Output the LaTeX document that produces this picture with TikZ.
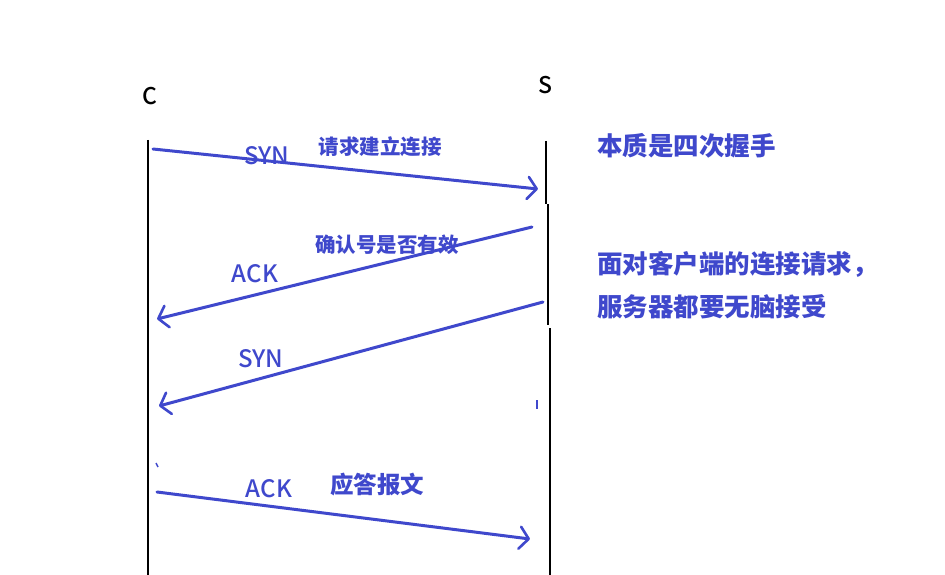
\documentclass[tikz,border=0pt]{standalone}
\usepackage{fontspec}
\setmainfont{Noto Sans CJK SC}
\newfontfamily\med{Noto Sans CJK SC}[UprightFont={* Medium}]
\usetikzlibrary{arrows.meta}
\definecolor{pen}{RGB}{63,72,204}
\tikzset{
  msg/.style={draw=pen,line width=3pt,line cap=round,-{Straight Barb[length=9pt,width=22pt,line width=2.6pt,round]}},
  life/.style={draw=black,line width=2.8pt},
  lbl/.style={text=pen,inner sep=0pt,font=\fontsize{24}{28}\med},
  zh/.style={text=pen,inner sep=0pt,font=\fontsize{20.5}{24}\selectfont\bfseries},
  note/.style={text=pen,inner sep=0pt,anchor=west,font=\fontsize{25.5}{30}\selectfont\bfseries},
  end/.style={text=black,inner sep=0pt,font=\fontsize{23}{26}\med},
}
\begin{document}
\begin{tikzpicture}[x=1pt,y=-1pt]
\useasboundingbox[fill=white] (0,0) rectangle (945,575);
% lifelines
\coordinate (c0) at (148,140); \coordinate (c1) at (148,575);
\coordinate (s0) at (546,141); \coordinate (s1) at (546,204);
\coordinate (s2) at (548,204); \coordinate (s3) at (548,325);
\coordinate (s4) at (550,328); \coordinate (s5) at (550,575);
\draw[life] (c0) -- (c1);
\draw[life] (s0) -- (s1);
\draw[life] (s2) -- (s3);
\draw[life] (s4) -- (s5);
\node[end] (C) at (150,96) {C};
\node[end] (S) at (545,85) {S};
% messages
\coordinate (a1s) at (153,149); \coordinate (a1e) at (538,189);
\coordinate (a2s) at (532,227); \coordinate (a2e) at (157,319);
\coordinate (a3s) at (543,302); \coordinate (a3e) at (159,406);
\coordinate (a4s) at (157,492); \coordinate (a4e) at (530,539);
\draw[msg] (a1s) -- (a1e);
\draw[msg] (a2s) -- (a2e);
\draw[msg] (a3s) -- (a3e);
\draw[msg] (a4s) -- (a4e);
% small stray marks
\coordinate (m1a) at (537,400); \coordinate (m1b) at (537,409);
\coordinate (m2a) at (156,463); \coordinate (m2b) at (158,467);
\draw[draw=pen,line width=1.5pt] (m1a) -- (m1b);
\draw[draw=pen,line width=1.5pt] (m2a) -- (m2b);
% labels
\node[lbl] (syn1) at (267,156) {SYN};
\node[zh] (l1) at (380,147) {请求建立连接};
\node[zh] (l2) at (387,245) {确认号是否有效};
\node[lbl] (ack1) at (255,274) {ACK};
\node[lbl] (syn2) at (261,359) {SYN};
\node[lbl] (ack2) at (269,489) {ACK};
\node[zh,font=\fontsize{23.5}{27}\selectfont\bfseries] (l4) at (377,485) {应答报文};
% notes
\node[note] (n1) at (597,146) {本质是四次握手};
\node[note] (n2) at (597,264) {面对客户端的连接请求，};
\node[note] (n3) at (597,307) {服务器都要无脑接受};
\end{tikzpicture}
\end{document}
